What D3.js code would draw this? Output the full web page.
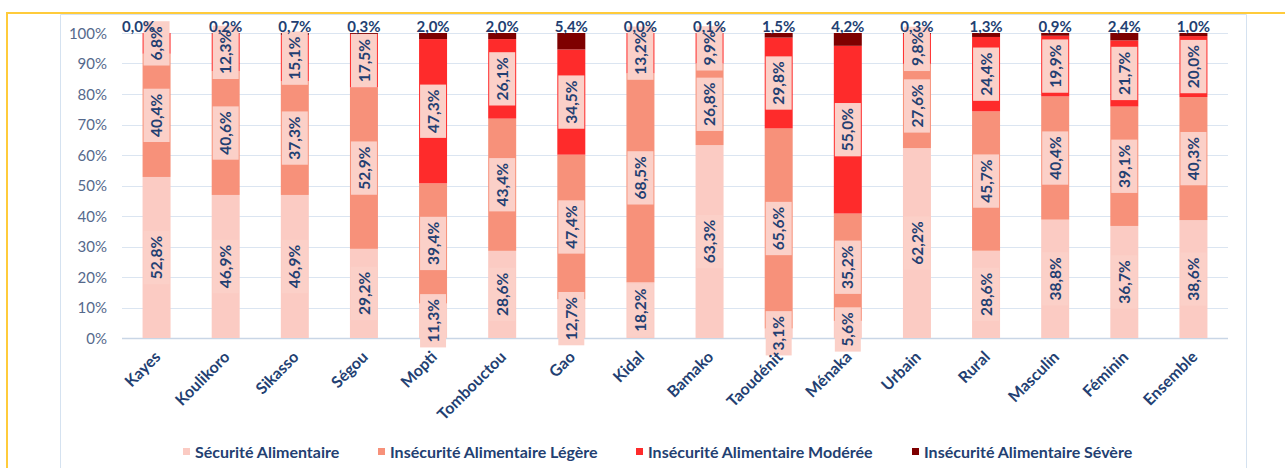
<!DOCTYPE html>
<html>
<head>
<meta charset="utf-8">
<script src="https://cdn.jsdelivr.net/npm/d3@7"></script>
<style>
  html, body { margin: 0; padding: 0; background: #fff; }
  svg { display: block; }
  text { font-family: Lato, "Open Sans", sans-serif; }
</style>
</head>
<body>
<svg id="chart" width="1285" height="468"></svg>
<script>
const categories = ["Kayes","Koulikoro","Sikasso","Ségou","Mopti","Tombouctou","Gao","Kidal","Bamako","Taoudénit","Ménaka","Urbain","Rural","Masculin","Féminin","Ensemble"];
const seriesNames = ["Sécurité Alimentaire","Insécurité Alimentaire Légère","Insécurité Alimentaire Modérée","Insécurité Alimentaire Sévère"];
const securite = [52.8,46.9,46.9,29.2,11.3,28.6,12.7,18.2,63.3,3.1,5.6,62.2,28.6,38.8,36.7,38.6];
const legere   = [40.4,40.6,37.3,52.9,39.4,43.4,47.4,68.5,26.8,65.6,35.2,27.6,45.7,40.4,39.1,40.3];
const moderee  = [6.8,12.3,15.1,17.5,47.3,26.1,34.5,13.2,9.9,29.8,55.0,9.8,24.4,19.9,21.7,20.0];
const severe   = [0.0,0.2,0.7,0.3,2.0,2.0,5.4,0.0,0.1,1.5,4.2,0.3,1.3,0.9,2.4,1.0];
const yTicks = [0,10,20,30,40,50,60,70,80,90,100];

const colors = ["#fbcbc3","#f7917a","#fe2b2b","#7e0000"];
const textColor = "#233f72";
const boxFill = "#fbd0c8";

const svg = d3.select("#chart");

// frames
svg.append("line").attr("x1",7).attr("x2",1285).attr("y1",13).attr("y2",13)
  .attr("stroke","#ffcb3b").attr("stroke-width",2);
svg.append("line").attr("x1",7).attr("x2",7).attr("y1",12).attr("y2",468)
  .attr("stroke","#ffcb3b").attr("stroke-width",2);
svg.append("path").attr("d","M60.5,470 V14.5 H1246.5 V470")
  .attr("fill","none").attr("stroke","#d5e2f0").attr("stroke-width",1);

const keys = ["s","l","m","v"];
const rows = categories.map((c,i)=>({cat:c, s:securite[i], l:legere[i], m:moderee[i], v:severe[i]}));
const stack = d3.stack().keys(keys).offset(d3.stackOffsetExpand);
const stacked = stack(rows);

const x = d3.scaleBand().domain(categories).range([122,1228]).paddingInner(0.595).paddingOuter(0.2975);
const y = d3.scaleLinear().domain([0,1]).range([338,33]);

// gridlines
svg.append("g").selectAll("line").data(yTicks).join("line")
  .attr("x1",122).attr("x2",1228)
  .attr("y1",d=>Math.round(y(d/100))+0.5).attr("y2",d=>Math.round(y(d/100))+0.5)
  .attr("stroke",d=>d===0?"#c9d6e6":"#dbe5f1").attr("stroke-width",d=>d===0?1.5:1);

// y axis labels
const yAxis = d3.axisLeft(y).tickValues(yTicks.map(d=>d/100)).tickFormat(d=>Math.round(d*100)+"%").tickSize(0).tickPadding(0);
const gy = svg.append("g").attr("transform","translate(107,0)").call(yAxis);
gy.select(".domain").remove();
gy.selectAll("text").attr("font-size","15px").attr("fill","#55698c").attr("font-family","Lato, sans-serif").attr("dy","0.35em");

// bars
const layers = svg.append("g").selectAll("g").data(stacked).join("g").attr("fill",(d,i)=>colors[i]);
layers.selectAll("rect").data(d=>d).join("rect")
  .attr("x",d=>x(d.data.cat)).attr("width",x.bandwidth())
  .attr("y",d=>y(d[1])).attr("height",d=>y(d[0])-y(d[1]));

const fmt = v => d3.format(".1f")(v).replace(".",",") + "%";

// rotated labels with boxes for first three series
const lab = svg.append("g");
stacked.slice(0,3).forEach((layer,li)=>{
  layer.forEach((d,i)=>{
    const cx = x(d.data.cat)+x.bandwidth()/2;
    const cy = (y(d[0])+y(d[1]))/2;
    const g = lab.append("g").attr("transform",`translate(${cx},${cy}) rotate(-90)`);
    const t = g.append("text").attr("text-anchor","middle").attr("dy","0.36em")
      .attr("font-size","15.5px").attr("font-weight","bold").attr("fill",textColor)
      .text(fmt(d.data[keys[li]]));
    const w = t.node().getComputedTextLength();
    g.insert("rect","text").attr("x",-w/2-5).attr("y",-(x.bandwidth()-2)/2)
      .attr("width",w+10).attr("height",x.bandwidth()-2).attr("fill",boxFill);
  });
});

// severe labels above bars
svg.append("g").selectAll("text").data(stacked[3]).join("text")
  .attr("x",(d,i)=>x(d.data.cat)+x.bandwidth()/2 + (i===0?-18:0))
  .attr("y",y(1)-1)
  .attr("text-anchor","middle").attr("font-size","15px").attr("font-weight","bold").attr("fill",textColor)
  .text(d=>fmt(d.data.v));

// x axis labels
svg.append("g").selectAll("text").data(categories).join("text")
  .attr("transform",d=>`translate(${x(d)+x.bandwidth()/2+5},358) rotate(-45)`)
  .attr("text-anchor","end").attr("font-size","16px").attr("font-weight","bold").attr("fill",textColor)
  .text(d=>d);

// legend
const legendX = [183,378,636,912];
const lg = svg.append("g").selectAll("g").data(seriesNames).join("g")
  .attr("transform",(d,i)=>`translate(${legendX[i]},452)`);
lg.append("rect").attr("x",0).attr("y",-4).attr("width",7).attr("height",7).attr("fill",(d,i)=>colors[i]);
lg.append("text").attr("x",12).attr("dy","0.35em").attr("font-size","16px").attr("font-weight","bold").attr("fill",textColor).text(d=>d);
</script>
</body>
</html>
